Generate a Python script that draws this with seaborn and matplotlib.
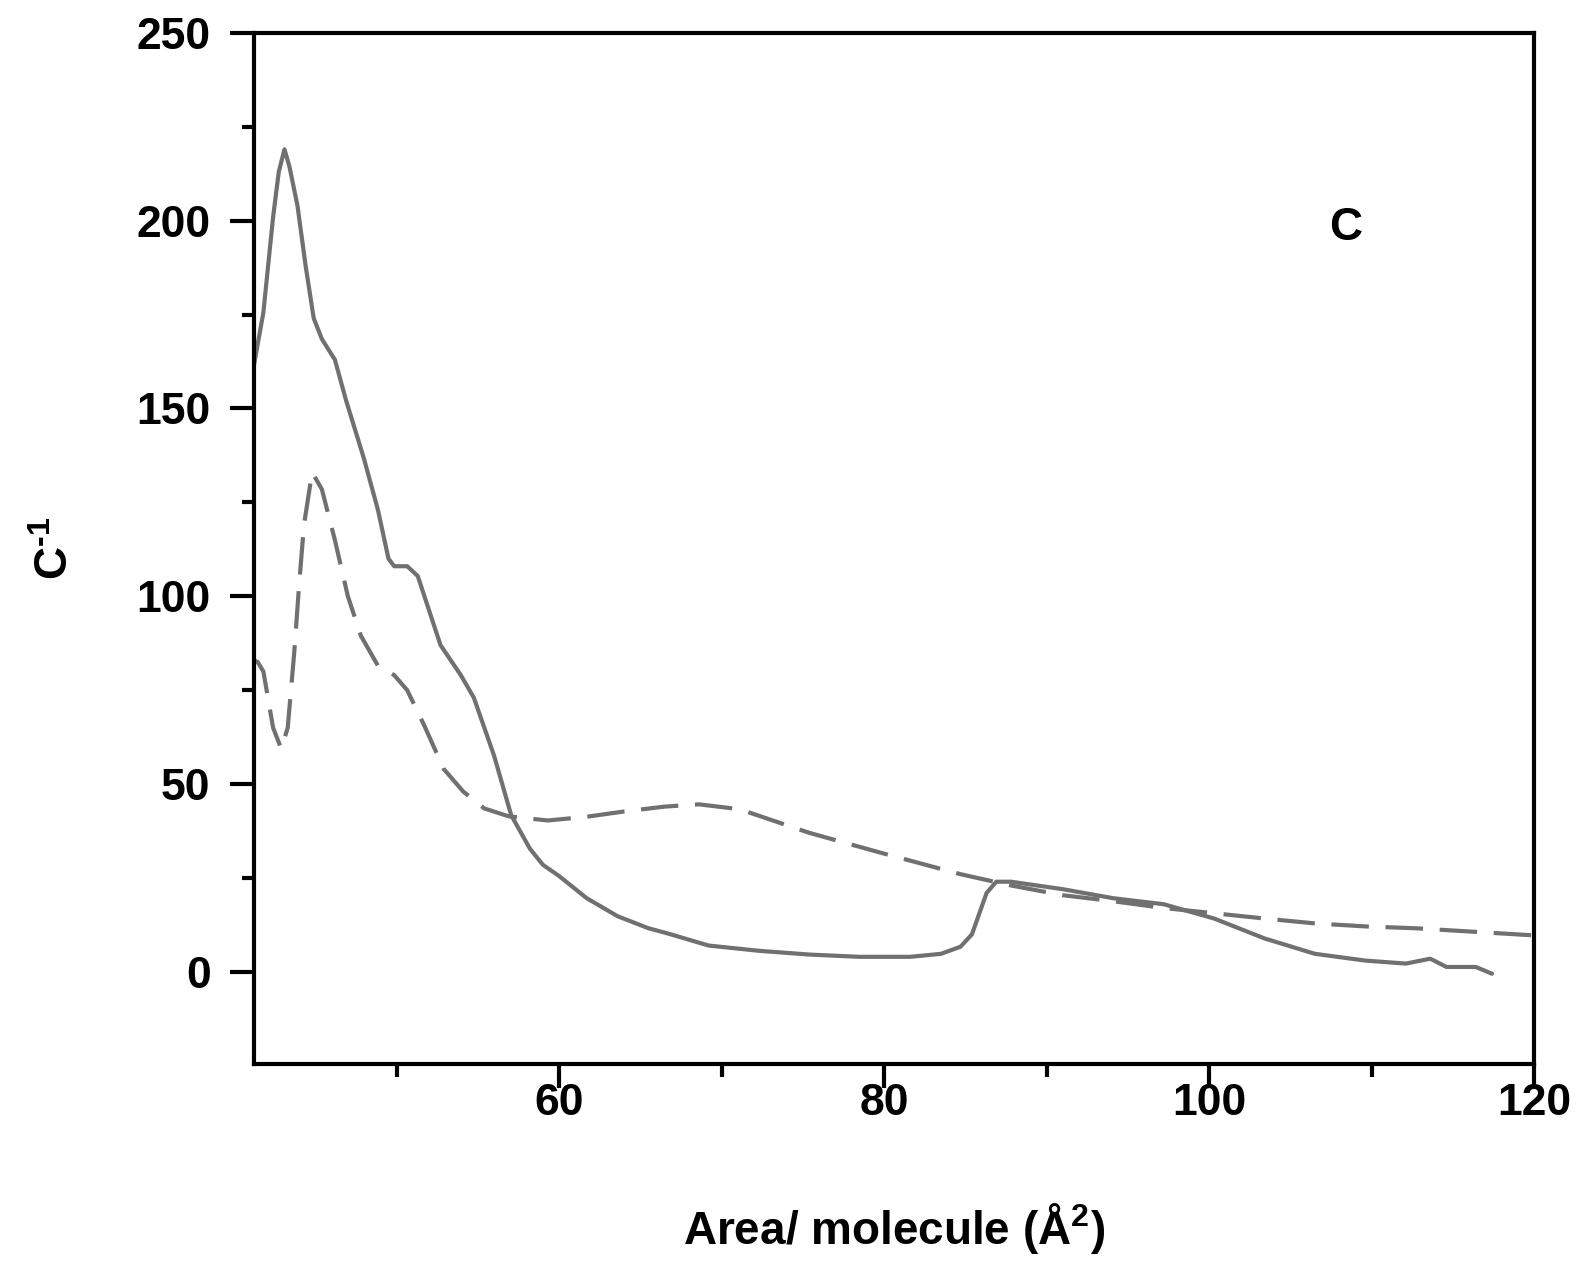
import numpy as np
import pandas as pd
import matplotlib
matplotlib.use("Agg")
import matplotlib.pyplot as plt
import seaborn as sns
from matplotlib.ticker import MultipleLocator

# Solid curve
solid_x = [41.2, 41.8, 42.4, 42.75, 43.1, 43.4, 43.9, 44.4, 44.9, 45.4, 46.2, 46.9, 48.0, 48.85,
           49.5, 49.85, 50.65, 51.3, 52.7, 53.95, 54.75, 56.0, 57.05, 58.2, 59.0, 60.0, 61.7,
           63.6, 65.5, 66.7, 69.2, 72.3, 75.4, 78.5, 81.6, 83.5, 84.7, 85.4, 86.3, 86.9, 87.8,
           91.0, 94.1, 97.2, 100.3, 103.4, 106.5, 109.6, 112.1, 113.6, 114.6, 116.4, 117.4]
solid_y = [161, 175.5, 201, 213, 219, 214.5, 204, 188, 174, 168.5, 163, 152, 136.5, 123,
           110, 108, 108, 105.4, 87, 79, 73, 57.5, 41.7, 32.8, 28.5, 25.5, 19.6,
           14.8, 11.6, 10.2, 7, 5.6, 4.6, 4.0, 4.0, 4.8, 6.7, 10, 21, 24, 24,
           22, 19.6, 18, 14.2, 8.9, 4.8, 3.0, 2.2, 3.5, 1.3, 1.3, -0.5]

# Dashed curve
dash_x = [41.2, 41.45, 41.8, 42.4, 42.9, 43.3, 43.7, 44.0, 44.3, 44.8, 45.4, 46.2, 47.0, 47.8,
          48.85, 49.85, 50.65, 51.7, 52.9, 54.1, 55.4, 56.9, 59.3, 61.7, 64.0, 66.5, 68.6,
          71.1, 75.4, 79.8, 84.7, 87.8, 91.0, 94.1, 97.2, 100.3, 103.4, 106.5, 109.6, 112.7,
          115.8, 120.0]
dash_y = [83, 82.5, 80, 65, 59.4, 65, 85, 103, 119, 133, 128.5, 115, 100, 89.5,
          81.5, 79, 75, 65.6, 54, 48, 43.5, 41.4, 40.3, 41.3, 42.7, 44.0, 44.6,
          43.3, 37, 31.7, 26, 23, 20.4, 18.8, 17, 15.6, 14.2, 12.9, 12.1, 11.6,
          10.8, 9.7]

x_ticks = [60, 80, 100, 120]
y_ticks = [0, 50, 100, 150, 200, 250]

df = pd.concat([
    pd.DataFrame({"x": solid_x, "y": solid_y, "s": "solid"}),
    pd.DataFrame({"x": dash_x, "y": dash_y, "s": "dash"}),
], ignore_index=True)

sns.set_style("ticks")
plt.rcParams["font.family"] = ["Liberation Sans", "DejaVu Sans"]
plt.rcParams["font.weight"] = "bold"
plt.rcParams["mathtext.fontset"] = "custom"
plt.rcParams["mathtext.rm"] = "Liberation Sans:bold"
plt.rcParams["mathtext.bf"] = "Liberation Sans:bold"
plt.rcParams["mathtext.it"] = "Liberation Sans:bold"

fig = plt.figure(figsize=(15.85, 12.65), dpi=100)
ax = fig.add_axes([0.160, 0.159, 0.808, 0.815])

sns.lineplot(data=df, x="x", y="y", hue="s", style="s",
             palette={"solid": "#707070", "dash": "#707070"},
             dashes={"solid": "", "dash": (9, 4)},
             linewidth=3, sort=False, estimator=None, legend=False, ax=ax)

ax.set_xlim(41.2, 120)
ax.set_ylim(-24.5, 250)
ax.set_xticks(x_ticks)
ax.set_yticks(y_ticks)
ax.xaxis.set_minor_locator(MultipleLocator(10))
ax.yaxis.set_minor_locator(MultipleLocator(25))
ax.tick_params(which="major", direction="out", length=17, width=3, labelsize=32, colors="black")
ax.tick_params(axis="x", which="major", pad=-3)
ax.tick_params(axis="y", which="major", pad=14)
ax.tick_params(which="minor", direction="out", length=9, width=3, colors="black")
for lab in ax.get_xticklabels() + ax.get_yticklabels():
    lab.set_fontweight("bold")
for sp in ax.spines.values():
    sp.set_visible(True)
    sp.set_linewidth(3)
    sp.set_color("black")

ax.set_xlabel("Area/ molecule (Å$^{2}$)", fontsize=33, fontweight="bold", labelpad=55, color="black")
ax.set_ylabel("C$^{\u2010 1}$", fontsize=33, fontweight="bold", labelpad=42, color="black")
ax.text(108.4, 198, "C", fontsize=33, fontweight="bold", ha="center", va="center", color="black")

fig.savefig("out.png", dpi=100)
